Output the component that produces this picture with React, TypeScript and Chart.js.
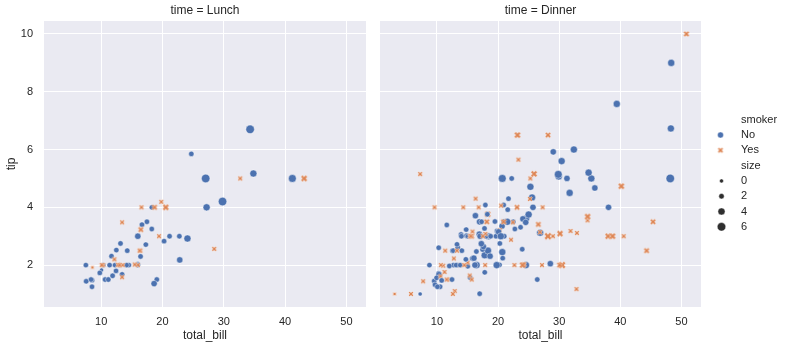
import React, { useEffect, useRef } from "react";
import { Chart, registerables } from "chart.js";

Chart.register(...registerables);

// ---- data (tips) ----
const totalBill = [
  16.99, 10.34, 21.01, 23.68, 24.59, 25.29, 8.77, 26.88, 15.04, 14.78, 10.27, 35.26, 15.42, 18.43, 14.83, 21.58, 10.33, 16.29, 16.97, 20.65,
  17.92, 20.29, 15.77, 39.42, 19.82, 17.81, 13.37, 12.69, 21.7, 19.65, 9.55, 18.35, 15.06, 20.69, 17.78, 24.06, 16.31, 16.93, 18.69, 31.27,
  16.04, 17.46, 13.94, 9.68, 30.4, 18.29, 22.23, 32.4, 28.55, 18.04, 12.54, 10.29, 34.81, 9.94, 25.56, 19.49, 38.01, 26.41, 11.24, 48.27,
  20.29, 13.81, 11.02, 18.29, 17.59, 20.08, 16.45, 3.07, 20.23, 15.01, 12.02, 17.07, 26.86, 25.28, 14.73, 10.51, 17.92, 27.2, 22.76, 17.29,
  19.44, 16.66, 10.07, 32.68, 15.98, 34.83, 13.03, 18.28, 24.71, 21.16, 28.97, 22.49, 5.75, 16.32, 22.75, 40.17, 27.28, 12.03, 21.01, 12.46,
  11.35, 15.38, 44.3, 22.42, 20.92, 15.36, 20.49, 25.21, 18.24, 14.31, 14.0, 7.25, 38.07, 23.95, 25.71, 17.31, 29.93, 10.65, 12.43, 24.08,
  11.69, 13.42, 14.26, 15.95, 12.48, 29.8, 8.52, 14.52, 11.38, 22.82, 19.08, 20.27, 11.17, 12.26, 18.26, 8.51, 10.33, 14.15, 16.0, 13.16,
  17.47, 34.3, 41.19, 27.05, 16.43, 8.35, 18.64, 11.87, 9.78, 7.51, 14.07, 13.13, 17.26, 24.55, 19.77, 29.85, 48.17, 25.0, 13.39, 16.49,
  21.5, 12.66, 16.21, 13.81, 17.51, 24.52, 20.76, 31.71, 10.59, 10.63, 50.81, 15.81, 7.25, 31.85, 16.82, 32.9, 17.89, 14.48, 9.6, 34.63,
  34.65, 23.33, 45.35, 23.17, 40.55, 20.69, 20.9, 30.46, 18.15, 23.1, 15.69, 19.81, 28.44, 15.48, 16.58, 7.56, 10.34, 43.11, 13.0, 13.51,
  18.71, 12.74, 13.0, 16.4, 20.53, 16.47, 26.59, 38.73, 24.27, 12.76, 30.06, 25.89, 48.33, 13.27, 28.17, 12.9, 28.15, 11.59, 7.74, 30.14,
  12.16, 13.42, 8.58, 15.98, 13.42, 16.27, 10.09, 20.45, 13.28, 22.12, 24.01, 15.69, 11.61, 10.77, 15.53, 10.07, 12.6, 32.83, 35.83, 29.03,
  27.18, 22.67, 17.82, 18.78,
];
const tipAmount = [
  1.01, 1.66, 3.5, 3.31, 3.61, 4.71, 2.0, 3.12, 1.96, 3.23, 1.71, 5.0, 1.57, 3.0, 3.02, 3.92, 1.67, 3.71, 3.5, 3.35,
  4.08, 2.75, 2.23, 7.58, 3.18, 2.34, 2.0, 2.0, 4.3, 3.0, 1.45, 2.5, 3.0, 2.45, 3.27, 3.6, 2.0, 3.07, 2.31, 5.0,
  2.24, 2.54, 3.06, 1.32, 5.6, 3.0, 5.0, 6.0, 2.05, 3.0, 2.5, 2.6, 5.2, 1.56, 4.34, 3.51, 3.0, 1.5, 1.76, 6.73,
  3.21, 2.0, 1.98, 3.76, 2.64, 3.15, 2.47, 1.0, 2.01, 2.09, 1.97, 3.0, 3.14, 5.0, 2.2, 1.25, 3.08, 4.0, 3.0, 2.71,
  3.0, 3.4, 1.83, 5.0, 2.03, 5.17, 2.0, 4.0, 5.85, 3.0, 3.0, 3.5, 1.0, 4.3, 3.25, 4.73, 4.0, 1.5, 3.0, 1.5,
  2.5, 3.0, 2.5, 3.48, 4.08, 1.64, 4.06, 4.29, 3.76, 4.0, 3.0, 1.0, 4.0, 2.55, 4.0, 3.5, 5.07, 1.5, 1.8, 2.92,
  2.31, 1.68, 2.5, 2.0, 2.52, 4.2, 1.48, 2.0, 2.0, 2.18, 1.5, 2.83, 1.5, 2.0, 3.25, 1.25, 2.0, 2.0, 2.0, 2.75,
  3.5, 6.7, 5.0, 5.0, 2.3, 1.5, 1.36, 1.63, 1.73, 2.0, 2.5, 2.0, 2.74, 2.0, 2.0, 5.14, 5.0, 3.75, 2.61, 2.0,
  3.5, 2.5, 2.0, 2.0, 3.0, 3.48, 2.24, 4.5, 1.61, 2.0, 10.0, 3.16, 5.15, 3.18, 4.0, 3.11, 2.0, 2.0, 4.0, 3.55,
  3.68, 5.65, 3.5, 6.5, 3.0, 5.0, 3.5, 2.0, 3.5, 4.0, 1.5, 4.19, 2.56, 2.02, 4.0, 1.44, 2.0, 5.0, 2.0, 2.0,
  4.0, 2.01, 2.0, 2.5, 4.0, 3.23, 3.41, 3.0, 2.03, 2.23, 2.0, 5.16, 9.0, 2.5, 6.5, 1.1, 3.0, 1.5, 1.44, 3.09,
  2.2, 3.48, 1.92, 3.0, 1.58, 2.5, 2.0, 3.0, 2.72, 2.88, 2.0, 3.0, 3.39, 1.47, 3.0, 1.25, 1.0, 1.17, 4.67, 5.92,
  2.0, 2.0, 1.75, 3.0,
];
// "Y" = smoker Yes, "N" = smoker No
const smokerCode =
  "NNNNNNNNNNNNNNNNNNNN" + "NNNNNNNNNNNNNNNNNNNN" + "NNNNNNNNNNNNNNNNYNYN" + "YYYYNNNYNYNNYYNNYNNN" +
  "YNNYNNNNNNYNYYNYYYNN" + "YYYYNYYYNYNNNNNNNNNN" + "NNNNNNNNNNNNNNNNNNYN" + "NNNNNNNNNNNNNNNNNNNN" +
  "NNNNYNNNYYYYYYYYYYYY" + "YYYYYNYYYYYYYYYNYYYY" + "YYYYYYYYYYYYNYYYYYYY" + "YYYNYYYNNYYYNNYNYYNN" +
  "YYNN";
// "L" = Lunch, "D" = Dinner
const timeCode =
  "DDDDDDDDDDDDDDDDDDDD" + "DDDDDDDDDDDDDDDDDDDD" + "DDDDDDDDDDDDDDDDDDDD" + "DDDDDDDDDDDDDDDDDLLL" +
  "LLLLLLLLLLDDDDDDDDDD" + "DDDDDDDDDDDDDDDDDLLL" + "LLLLLLLLLLLLLLLLLLLL" + "LLLLLLLLLLDDDDDDDDDD" +
  "DDDDDDDDDDDDDDDDDDDD" + "DDDDDDDDDDDLLLLLLLLL" + "LLLLLLDDDDDDDDDDDDDD" + "LLLLLLLDDDDDDDDDDDDD" +
  "DDDD";
const partySize = [
  2, 3, 3, 2, 4, 4, 2, 4, 2, 2, 2, 4, 2, 4, 2, 2, 3, 3, 3, 3,
  2, 2, 2, 4, 2, 4, 2, 2, 2, 2, 2, 4, 2, 4, 2, 3, 3, 3, 3, 3,
  3, 2, 2, 2, 4, 2, 2, 4, 3, 2, 2, 2, 4, 2, 4, 2, 4, 2, 2, 4,
  2, 2, 2, 4, 3, 3, 2, 1, 2, 2, 2, 3, 2, 2, 2, 2, 2, 4, 2, 2,
  2, 2, 1, 2, 2, 4, 2, 2, 2, 2, 2, 2, 2, 2, 2, 4, 2, 2, 2, 2,
  2, 2, 3, 2, 2, 2, 2, 2, 2, 2, 2, 1, 3, 2, 3, 2, 4, 2, 2, 4,
  2, 2, 2, 2, 2, 6, 2, 2, 2, 3, 2, 2, 2, 2, 2, 2, 2, 2, 2, 2,
  2, 6, 5, 6, 2, 2, 3, 2, 2, 2, 2, 2, 3, 4, 4, 5, 6, 4, 2, 4,
  4, 2, 3, 2, 2, 3, 2, 4, 2, 2, 3, 2, 2, 2, 2, 2, 2, 2, 2, 2,
  4, 2, 3, 4, 2, 5, 3, 5, 3, 3, 2, 2, 2, 2, 2, 2, 2, 4, 2, 2,
  3, 2, 2, 2, 4, 3, 3, 4, 2, 2, 3, 4, 4, 2, 3, 2, 5, 2, 2, 4,
  2, 2, 1, 3, 2, 2, 2, 4, 2, 2, 4, 3, 2, 2, 2, 2, 2, 2, 3, 3,
  2, 2, 2, 2,
];

const panels = ["Lunch", "Dinner"];
const smokerLevels = ["No", "Yes"];
const sizeLegendLevels = [0, 2, 4, 6];
const xTicks = [10, 20, 30, 40, 50];
const yTicks = [2, 4, 6, 8, 10];
const X_MIN = 0.68;
const X_MAX = 53.2;
const Y_MIN = 0.55;
const Y_MAX = 10.45;

// ---- style ----
const BLUE = "#4C72B0";
const ORANGE = "#DD8452";
const BG = "#EAEAF2";
const TXT = "#262626";
const FONT = '"Liberation Sans", Arial, sans-serif';
const EDGE = 0.43;

function sizeArea(v: number) {
  // seaborn default: sizes 1..6 -> 18..72 pt^2
  return 18 + ((v - 1) / 5) * 54;
}
function sizeRadius(v: number) {
  return Math.sqrt(Math.max(sizeArea(v), 16)) / 2;
}

const xCache: Record<string, HTMLCanvasElement> = {};
function makeX(ms: number, color: string): HTMLCanvasElement {
  const key = ms.toFixed(3) + color;
  if (xCache[key]) return xCache[key];
  const size = Math.ceil(ms + 4) + (Math.ceil(ms + 4) % 2);
  const c = document.createElement("canvas");
  c.width = size;
  c.height = size;
  const ctx = c.getContext("2d")!;
  ctx.translate(size / 2, size / 2);
  ctx.rotate(Math.PI / 4);
  const u = ms / 6;
  const pts = [
    [-1, -3], [1, -3], [1, -1], [3, -1], [3, 1], [1, 1],
    [1, 3], [-1, 3], [-1, 1], [-3, 1], [-3, -1], [-1, -1],
  ];
  ctx.beginPath();
  pts.forEach(([px, py], i) => {
    if (i === 0) ctx.moveTo(px * u, py * u);
    else ctx.lineTo(px * u, py * u);
  });
  ctx.closePath();
  ctx.fillStyle = color;
  ctx.fill();
  ctx.strokeStyle = "#ffffff";
  ctx.lineWidth = EDGE;
  ctx.stroke();
  xCache[key] = c;
  return c;
}

function buildDataset(panel: string) {
  const data: { x: number; y: number }[] = [];
  const styles: any[] = [];
  const radii: number[] = [];
  const colors: string[] = [];
  for (let i = 0; i < totalBill.length; i++) {
    const t = timeCode[i] === "L" ? "Lunch" : "Dinner";
    if (t !== panel) continue;
    const sm = smokerCode[i] === "Y" ? "Yes" : "No";
    const s = partySize[i];
    data.push({ x: totalBill[i], y: tipAmount[i] });
    radii.push(sizeRadius(s));
    if (sm === "Yes") {
      styles.push(makeX(Math.sqrt(sizeArea(s)), ORANGE));
      colors.push(ORANGE);
    } else {
      styles.push("circle");
      colors.push(BLUE);
    }
  }
  return {
    label: panel,
    data,
    pointStyle: styles,
    pointRadius: radii,
    pointBackgroundColor: colors,
    pointBorderColor: "#ffffff",
    pointBorderWidth: EDGE,
    showLine: false,
  };
}

function panelPlugin(title: string, showY: boolean) {
  return {
    id: "panelDeco",
    beforeDraw(chart: any) {
      const { ctx, chartArea: a } = chart;
      ctx.save();
      ctx.fillStyle = BG;
      ctx.fillRect(a.left, a.top, a.right - a.left, a.bottom - a.top);
      ctx.restore();
    },
    afterDraw(chart: any) {
      const { ctx, chartArea: a } = chart;
      const cx = (a.left + a.right) / 2;
      ctx.save();
      ctx.fillStyle = TXT;
      ctx.font = `12px ${FONT}`;
      ctx.textAlign = "center";
      ctx.textBaseline = "middle";
      ctx.fillText(`time = ${title}`, cx, 11);
      ctx.fillText("total_bill", cx, 336);
      if (showY) {
        ctx.translate(12, (a.top + a.bottom) / 2);
        ctx.rotate(-Math.PI / 2);
        ctx.fillText("tip", 0, 0);
      }
      ctx.restore();
    },
  };
}

const legendPlugin = {
  id: "seabornLegend",
  afterDraw(chart: any) {
    const ctx = chart.ctx;
    const mx = 721;
    const tx = 741;
    const y0 = 119.7;
    const dy = 15.3;
    ctx.save();
    ctx.font = `11px ${FONT}`;
    ctx.fillStyle = TXT;
    ctx.textAlign = "left";
    ctx.textBaseline = "middle";
    let row = 0;
    ctx.fillText("smoker", tx, y0 + dy * row++);
    smokerLevels.forEach((lv) => {
      const y = y0 + dy * row++;
      if (lv === "No") {
        ctx.beginPath();
        ctx.arc(mx - 0.5, y, 3, 0, Math.PI * 2);
        ctx.fillStyle = BLUE;
        ctx.fill();
        ctx.strokeStyle = "#fff";
        ctx.lineWidth = EDGE;
        ctx.stroke();
      } else {
        const img = makeX(6, ORANGE);
        ctx.drawImage(img, mx - 0.5 - img.width / 2, y - img.height / 2);
      }
      ctx.fillStyle = TXT;
      ctx.fillText(lv, tx, y);
    });
    ctx.fillText("size", tx, y0 + dy * row++);
    sizeLegendLevels.forEach((lv) => {
      const y = y0 + dy * row++;
      ctx.beginPath();
      ctx.arc(mx + 0.5, y, sizeRadius(lv), 0, Math.PI * 2);
      ctx.fillStyle = "#2f2f2f";
      ctx.fill();
      ctx.strokeStyle = "#fff";
      ctx.lineWidth = EDGE;
      ctx.stroke();
      ctx.fillStyle = TXT;
      ctx.fillText(String(lv), tx, y);
    });
    ctx.restore();
  },
};

function makeConfig(panel: string, isLeft: boolean): any {
  return {
    type: "scatter",
    data: { datasets: [buildDataset(panel)] },
    plugins: isLeft ? [panelPlugin(panel, true)] : [panelPlugin(panel, false), legendPlugin],
    options: {
      animation: false,
      responsive: false,
      events: [],
      layout: {
        padding: isLeft
          ? { left: 0, top: 21, right: 420, bottom: 0 }
          : { left: 370, top: 21, right: 85, bottom: 0 },
      },
      plugins: {
        legend: { display: false },
        tooltip: { enabled: false },
        title: { display: false },
      },
      scales: {
        x: {
          type: "linear",
          min: X_MIN,
          max: X_MAX,
          afterBuildTicks: (s: any) => {
            s.ticks = xTicks.map((v) => ({ value: v }));
          },
          afterFit: (s: any) => {
            s.height = 41;
          },
          grid: { color: "#ffffff", lineWidth: 1, drawTicks: false },
          border: { display: false },
          ticks: { padding: 8, color: TXT, font: { family: FONT, size: 11 }, maxRotation: 0 },
        },
        y: {
          type: "linear",
          min: Y_MIN,
          max: Y_MAX,
          afterBuildTicks: (s: any) => {
            s.ticks = yTicks.map((v) => ({ value: v }));
          },
          afterFit: (s: any) => {
            s.width = isLeft ? 44 : 10;
          },
          grid: { color: "#ffffff", lineWidth: 1, drawTicks: false },
          border: { display: false },
          ticks: { display: isLeft, padding: 11, color: TXT, font: { family: FONT, size: 11 } },
        },
      },
    },
  };
}

export default function App() {
  const ref1 = useRef<HTMLCanvasElement>(null);
  const ref2 = useRef<HTMLCanvasElement>(null);
  useEffect(() => {
    const c1 = new Chart(ref1.current!, makeConfig(panels[0], true));
    const c2 = new Chart(ref2.current!, makeConfig(panels[1], false));
    return () => {
      c1.destroy();
      c2.destroy();
    };
  }, []);
  const cs: React.CSSProperties = { position: "absolute", left: 0, top: 0, width: 786, height: 348 };
  return (
    <div style={{ position: "absolute", left: 0, top: 0, width: 786, height: 348, background: "#fff" }}>
      <canvas ref={ref1} width={786} height={348} style={cs} />
      <canvas ref={ref2} width={786} height={348} style={cs} />
    </div>
  );
}
